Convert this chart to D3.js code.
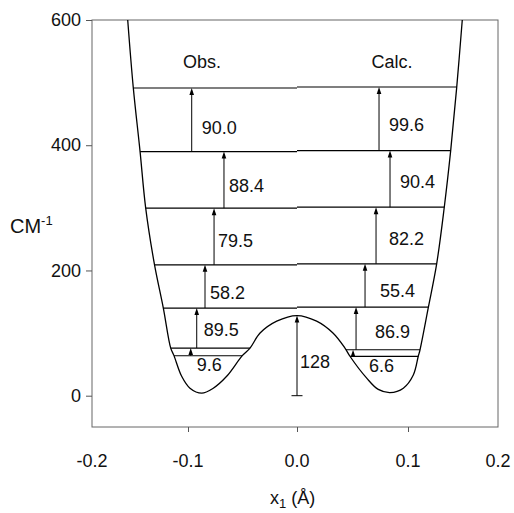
<!DOCTYPE html>
<html lang="en">
<head>
<meta charset="UTF-8">
<title>Double-well potential: Obs. vs Calc. levels</title>
<script src="https://d3js.org/d3.v7.min.js"></script>
<style>
  body { margin: 0; background: #fff; }
  text { font-family: "Liberation Sans", Arial, Helvetica, sans-serif; fill: #111; }
</style>
</head>
<body>
<svg id="chart" width="514" height="513"></svg>
<script>
// potential curve (x in Angstrom, V in cm-1)
var curveX = [-0.1628, -0.157, -0.15, -0.1441, -0.1351, -0.1257, -0.118, -0.1146, -0.1066, -0.0982,
              -0.0874, -0.0768, -0.0645, -0.0502, -0.0431, -0.0339, -0.0186, 0, 0.0177, 0.0324,
              0.0432, 0.0477, 0.0628, 0.0732, 0.0838, 0.0958, 0.1059, 0.1114, 0.1133, 0.1226,
              0.1319, 0.1403, 0.1474, 0.1541, 0.1603];
var curveV = [600, 492, 391, 300, 211, 140, 76, 64, 31, 12,
              4, 12, 31, 64, 76, 100, 119, 128, 119, 100,
              76, 63, 28, 10, 5, 12, 33, 63, 73, 141,
              211, 301, 391, 492, 600];

// energy levels (cm-1)
var obsLevels  = [63.8, 76.1, 140, 209, 299.5, 389.8, 491.4];
var calcLevels = [62.7, 73.4, 141.5, 210.6, 301, 391.4, 493];

// transitions between successive levels
var obsLabels  = ["9.6", "89.5", "58.2", "79.5", "88.4", "90.0"];
var calcLabels = ["6.6", "86.9", "55.4", "82.2", "90.4", "99.6"];
var obsArrowX  = [-0.0975, -0.092, -0.0844, -0.0761, -0.067, -0.0966];
var calcArrowX = [0.0505, 0.0532, 0.0613, 0.0712, 0.0838, 0.0739];

var barrier = 128;
var barrierLabel = "128";

var yTicks = [0, 200, 400, 600];
var xTicks = [-0.1, 0, 0.1];
var xTickLabels = [-0.2, -0.1, 0, 0.1, 0.2];

// label nudges (px) relative to arrow x / arrow middle
var obsShift  = [[6, 0], [7, 2], [5, 6], [4, 4], [5, 6], [10, 8]];
var calcShift = [[16, 0], [19, 3], [15, 5], [13, 3], [10, 3], [10, 6]];

var svg = d3.select("#chart");

// the printed axis is not quite uniform, so a piecewise scale follows its ticks
var x = d3.scaleLinear()
          .domain(xTickLabels)
          .range([92, 188, 297, 408, 498]);
var y = d3.scaleLinear()
          .domain([-50, 600])
          .range([427, 20]);

var points = curveX.map(function(d, i) { return [d, curveV[i]]; });

// where the curve reaches level v between xa and xb
function crossings(v, xa, xb) {
    var out = [];
    for (var i = 0; i < points.length - 1; i++) {
        var p = points[i], q = points[i + 1];
        if (p[0] < xa || q[0] > xb) continue;
        if ((p[1] - v) * (q[1] - v) <= 0 && p[1] !== q[1]) {
            out.push(p[0] + (v - p[1]) / (q[1] - p[1]) * (q[0] - p[0]));
        }
    }
    return out;
}

// plain hyphen minus, as printed
function fmt1(d) { return d3.format(".1f")(d).replace("\u2212", "-"); }

// frame
var frame = svg.append("g").attr("stroke", "#666").attr("stroke-width", 1).attr("fill", "none");
frame.append("rect")
     .attr("x", x.range()[0]).attr("y", y.range()[1])
     .attr("width", x.range()[4] - x.range()[0])
     .attr("height", y.range()[0] - y.range()[1]);

// y axis
var yAxis = svg.append("g")
    .attr("transform", "translate(" + x.range()[0] + ",0)")
    .call(d3.axisLeft(y).tickValues(yTicks).tickSize(6).tickPadding(5).tickFormat(d3.format("d")));
yAxis.select(".domain").remove();
yAxis.selectAll("line").attr("stroke", "#555");
yAxis.selectAll("text").style("font-size", "18px").attr("fill", "#111")
     .style("font-family", "'Liberation Sans', Arial, sans-serif");

// x axis ticks
var xAxis = svg.append("g")
    .attr("transform", "translate(0," + y.range()[0] + ")")
    .call(d3.axisBottom(x).tickValues(xTicks).tickSize(5).tickFormat(""));
xAxis.select(".domain").remove();
xAxis.selectAll("line").attr("stroke", "#555");

svg.append("g").selectAll("text")
   .data(xTickLabels)
   .enter().append("text")
   .attr("x", function(d) { return x(d); })
   .attr("y", 467)
   .attr("text-anchor", "middle")
   .style("font-size", "18px")
   .text(fmt1);

// axis titles
var yt = svg.append("text").attr("x", 10).attr("y", 233).style("font-size", "20px");
yt.append("tspan").text("CM");
yt.append("tspan").attr("dy", -8).style("font-size", "13px").text("-1");

var xt = svg.append("text").attr("x", 270).attr("y", 504).style("font-size", "18px");
xt.append("tspan").text("x");
xt.append("tspan").attr("dy", 4).style("font-size", "13px").text("1");
xt.append("tspan").attr("dy", -4).text(" (\u00C5)");

// potential curve
svg.append("path")
   .datum(points)
   .attr("fill", "none")
   .attr("stroke", "#000")
   .attr("stroke-width", 1.3)
   .attr("d", d3.line()
                .x(function(d) { return x(d[0]); })
                .y(function(d) { return y(d[1]); })
                .curve(d3.curveCatmullRom.alpha(0.5)));

// level lines
function levelSpan(v, side) {
    var lo = side < 0 ? x.domain()[0] : 0;
    var hi = side < 0 ? 0 : x.domain()[4];
    var c = crossings(v, lo, hi);
    if (v < barrier) return [d3.min(c), d3.max(c)];
    return side < 0 ? [c[0], 0] : [0, c[c.length - 1]];
}

var levels = svg.append("g").attr("stroke", "#000").attr("stroke-width", 1.2);
[[obsLevels, -1], [calcLevels, 1]].forEach(function(set) {
    set[0].forEach(function(v) {
        var s = levelSpan(v, set[1]);
        levels.append("line")
              .attr("x1", x(s[0])).attr("x2", x(s[1]))
              .attr("y1", y(v)).attr("y2", y(v));
    });
});

// arrows
var arrows = svg.append("g");
function arrow(xv, v0, v1) {
    var px = x(xv), top = y(v1);
    arrows.append("line")
          .attr("x1", px).attr("x2", px)
          .attr("y1", y(v0)).attr("y2", top + 3)
          .attr("stroke", "#000").attr("stroke-width", 1);
    arrows.append("path")
          .attr("d", "M" + px + "," + top + "l-2.3,7h4.6z")
          .attr("fill", "#000");
}

var labels = svg.append("g").style("font-size", "18px");
function transitions(levelsArr, arrowX, texts, shift) {
    texts.forEach(function(t, i) {
        arrow(arrowX[i], levelsArr[i], levelsArr[i + 1]);
        var mid = (y(levelsArr[i]) + y(levelsArr[i + 1])) / 2;
        // the lowest label sits under its level line
        var cy = i === 0 ? y(levelsArr[0]) + 9 : mid;
        labels.append("text")
              .attr("x", x(arrowX[i]) + shift[i][0])
              .attr("y", cy + shift[i][1])
              .attr("dy", "0.35em")
              .text(t);
    });
}
transitions(obsLevels, obsArrowX, obsLabels, obsShift);
transitions(calcLevels, calcArrowX, calcLabels, calcShift);

// barrier height
arrow(0, 0, barrier);
arrows.append("line")
      .attr("x1", x(0) - 5.5).attr("x2", x(0) + 5.5)
      .attr("y1", y(0)).attr("y2", y(0))
      .attr("stroke", "#000").attr("stroke-width", 1);
labels.append("text")
      .attr("x", x(0) + 3)
      .attr("y", (y(0) + y(barrier)) / 2 + 6)
      .attr("dy", "0.35em")
      .text(barrierLabel);

// column headers
labels.append("text").attr("x", 202).attr("y", 62).attr("dy", "0.35em")
      .attr("text-anchor", "middle").text("Obs.");
labels.append("text").attr("x", 392).attr("y", 62).attr("dy", "0.35em")
      .attr("text-anchor", "middle").text("Calc.");
</script>
</body>
</html>
